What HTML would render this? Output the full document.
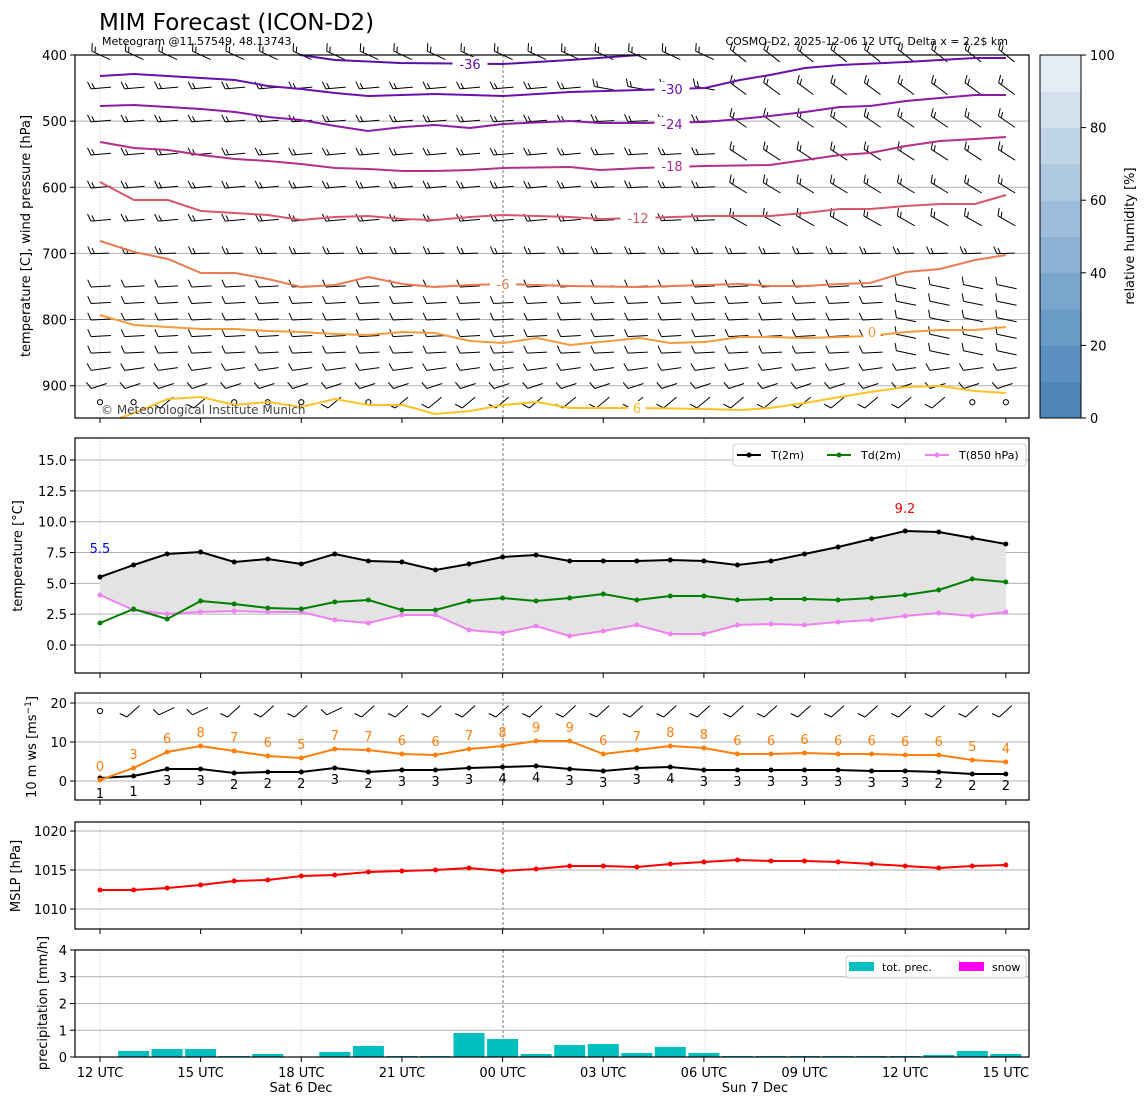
<!DOCTYPE html>
<html><head><meta charset="utf-8"><style>
body{margin:0;background:#fff;}
svg{display:block;font-family:"DejaVu Sans","Liberation Sans",sans-serif;}
</style></head><body>
<svg id="s" width="1148" height="1105" viewBox="0 0 1148 1105" xmlns="http://www.w3.org/2000/svg">
<rect width="1148" height="1105" fill="#fff"/>
<text x="99" y="30" font-size="23">MIM Forecast (ICON-D2)</text>
<text x="102" y="45" font-size="11">Meteogram @11.57549, 48.13743</text>
<text x="1008" y="45" font-size="11" text-anchor="end">COSMO-D2, 2025-12-06 12 UTC, Delta x = 2.2$ km</text>
<g id="g"></g>
</svg>
<script>
var g=document.getElementById('g');var h='';
function X(i){return 100+i*33.55;}
function pl(pts,c,w,extra){return '<polyline points="'+pts.map(p=>p[0].toFixed(1)+','+p[1].toFixed(1)).join(' ')+'" fill="none" stroke="'+c+'" stroke-width="'+w+'" '+(extra||'')+'/>';}
function line(x1,y1,x2,y2,c,w,e){return '<line x1="'+x1+'" y1="'+y1+'" x2="'+x2+'" y2="'+y2+'" stroke="'+c+'" stroke-width="'+(w||1)+'" '+(e||'')+'/>';}
function txt(x,y,t,s,c,a,e){return '<text x="'+x+'" y="'+y+'" font-size="'+(s||13)+'" fill="'+(c||'#000')+'" text-anchor="'+(a||'middle')+'" '+(e||'')+'>'+t+'</text>';}
var L=75,R=1029;
function vgrid(t,b){var s='';[100,301,705,906].forEach(x=>s+=line(x,t,x,b,'#cfcfcf',0.8,'stroke-dasharray="1.5,1.5"'));s+=line(503,t,503,b,'#555',0.8,'stroke-dasharray="3,2"');return s;}
function frame(t,b){var s='<rect x="'+L+'" y="'+t+'" width="'+(R-L)+'" height="'+(b-t)+'" fill="none" stroke="#000" stroke-width="1.2"/>';for(var k=0;k<10;k++){var x=100+k*100.65;s+=line(x,b,x,b+5,'#000',1);}return s;}
function ytick(y,lab){return line(L-5,y,L,y,'#000',1)+txt(L-8,y+5,lab,13,'#000','end');}
// ===== Top panel =====
var T=55,B=418;
function py(p){return T+(p-400)*0.6614;}
h+=vgrid(T,B);
[500,600,700,800,900].forEach(p=>h+=line(L,py(p),R,py(p),'#b0b0b0',1));
// barbs
function barb(x,y,ang,n,len){var a=ang*Math.PI/180,c=Math.cos(a),s=Math.sin(a);len=len||20;
 var x0=x-9*c,y0=y+9*s,x1=x0+len*c,y1=y0-len*s;var r=line(x0.toFixed(1),y0.toFixed(1),x1.toFixed(1),y1.toFixed(1),'#000',1);
 for(var k=0;k<n;k++){var bx=x0+k*3.5*c,by=y0-k*3.5*s;var ll=(k==n-1&&n>1)?6:8;var ba=a+Math.PI*0.62;r+=line(bx.toFixed(1),by.toFixed(1),(bx+ll*Math.cos(ba)).toFixed(1),(by-ll*Math.sin(ba)).toFixed(1),'#000',1);}return r;}
var levels=[400,450,500,550,600,650,700,750,775,800,825,850,875,900,925];
levels.forEach(function(p){var y=py(p);for(var i=0;i<28;i++){var x=X(i);var ang,n,len=20;
 if(p<=650){ang=i>=19?-38+(p-400)/30:(i>=15?(p<=450?-10:3):5);n=2;if(p==400&&i<19){n=2;ang=-25;}}
 else if(p==700){ang=2;n=2;len=18;}
 else if(p<=850){ang=i>=24?-12:3;n=1;}
 else if(p==875){ang=8;n=1;}
 else if(p==900){ang=18;n=1;len=16;}
 else{ if([0,1,4,5,6,8,26,27].indexOf(i)>=0){h+='<circle cx="'+x+'" cy="'+y+'" r="2.6" fill="none" stroke="#000" stroke-width="1"/>';continue;} ang=40;n=1;len=17;}
 h+=barb(x,y,ang,n,len);}});
// contours
var C=[
['#5a0fa8',[[300,55],[335,60],[400,63],[503,64],[570,60],[640,55]],'-36',470,64],
['#6a10b0',[[100,76],[134,74],[201,78],[235,80],[268,86],[301,89],[335,93],[368,96],[435,94],[470,95],[503,96],[570,92],[640,90],[705,88],[740,80],[770,75],[805,68],[840,65],[906,62],[940,60],[975,58],[1006,58]],'-30',672,89],
['#8c1aa8',[[100,106],[134,105],[168,107],[201,109],[235,112],[268,117],[301,120],[335,126],[368,131],[403,127],[435,125],[470,128],[503,124],[570,121],[600,123],[640,123],[705,122],[740,119],[770,116],[805,112],[840,107],[870,106],[906,101],[940,98],[975,95],[1006,95]],'-24',672,124],
['#b5308a',[[100,142],[134,148],[168,150],[201,155],[235,159],[268,161],[301,164],[335,168],[368,169],[403,171],[435,171],[470,170],[503,168],[570,167],[600,170],[640,168],[705,166],[770,165],[805,160],[840,155],[870,153],[906,146],[940,141],[975,139],[1006,137]],'-18',672,166],
['#d9566c',[[100,182],[134,200],[168,200],[201,211],[235,213],[268,215],[301,220],[335,217],[368,216],[403,219],[435,220],[470,217],[503,215],[570,217],[600,219],[640,218],[705,216],[770,216],[805,213],[840,209],[870,209],[906,206],[940,204],[975,204],[1006,195]],'-12',638,218],
['#ee7a55',[[100,241],[134,252],[168,259],[201,273],[235,273],[268,279],[301,287],[335,285],[368,277],[403,284],[435,287],[470,285],[503,284],[570,286],[640,287],[705,285],[740,284],[770,286],[805,286],[840,284],[870,283],[906,272],[940,269],[975,260],[1006,255]],'-6',503,284],
['#f99a3c',[[100,315],[134,325],[168,327],[201,329],[235,329],[268,331],[301,332],[335,334],[368,335],[403,332],[435,333],[470,341],[503,343],[537,338],[570,345],[640,338],[670,343],[705,342],[740,337],[770,337],[805,338],[840,337],[870,336],[906,332],[940,330],[975,330],[1006,327]],'0',872,332],
['#fcc226',[[120,418],[134,413],[168,399],[201,397],[235,405],[268,402],[301,407],[335,399],[368,405],[403,405],[435,414],[470,411],[503,405],[537,402],[570,408],[640,408],[705,409],[740,410],[770,408],[805,403],[840,397],[870,392],[906,387],[940,386],[975,391],[1006,393]],'6',637,408]];
C.forEach(function(c){h+=pl(c[1],c[0],2);var w=c[2].length*9+8;h+='<rect x="'+(c[3]-w/2)+'" y="'+(c[4]-7)+'" width="'+w+'" height="14" fill="#fff"/>';h+=txt(c[3],c[4]+5,c[2],13,c[0]);});
h+=txt(101,414,'© Meteorological Institute Munich',12,'#444','start');
h+=frame(T,B);
[400,500,600,700,800,900].forEach(p=>h+=ytick(py(p),p));
h+=txt(30,236,'temperature [C], wind pressure [hPa]',13,'#000','middle','transform="rotate(-90 30 236)"');
// colorbar
var cols=['#4f87ba','#5b90c0','#6a9ac6','#7aa5cc','#8cb1d3','#9dbdda','#afc9e1','#c0d5e8','#d3e1ef','#e4edf6','#f4f8fc'];
var cbT=55,cbB=418,cbH=(cbB-cbT);
for(var k=0;k<10;k++){var y1=cbB-(k+1)*cbH/10;h+='<rect x="1040" y="'+y1.toFixed(1)+'" width="41" height="'+(cbH/10+0.5).toFixed(1)+'" fill="'+cols[k]+'"/>';}
h+='<rect x="1040" y="55" width="41" height="363" fill="none" stroke="#000" stroke-width="1"/>';
[0,20,40,60,80,100].forEach(v=>{var y=cbB-v*cbH/100;h+=line(1081,y,1086,y,'#000',1)+txt(1090,y+5,v,13,'#000','start');});
h+=txt(1134,236,'relative humidity [%]',13,'#000','middle','transform="rotate(-90 1134 236)"');
// ===== Temperature panel =====
T=438;B=673;
h+=vgrid(T,B);
function ty(v){return 645-v*12.33;}
[0,2.5,5,7.5,10,12.5,15].forEach(v=>h+=line(L,ty(v),R,ty(v),'#b0b0b0',1));
var t2=[577,565,554,552,562,559,564,554,561,562,570,564,557,555,561,561,561,560,561,565,561,554,547,539,531,532,538,544];
var td=[623,609,619,601,604,608,609,602,600,610,610,601,598,601,598,594,600,596,596,600,599,599,600,598,595,590,579,582];
var t8=[595,610,614,612,611,612,612,620,623,615,615,630,633,626,636,631,625,634,634,625,624,625,622,620,616,613,616,612];
var poly=[];t2.forEach((y,i)=>poly.push(X(i).toFixed(1)+','+y));for(var i=27;i>=0;i--)poly.push(X(i).toFixed(1)+','+t8[i]);
h+='<polygon points="'+poly.join(' ')+'" fill="#e3e3e3"/>';
function series(arr,c,w,r){var s=pl(arr.map((y,i)=>[X(i),y]),c,w);arr.forEach((y,i)=>s+='<circle cx="'+X(i).toFixed(1)+'" cy="'+y+'" r="'+r+'" fill="'+c+'"/>');return s;}
h+=series(t8,'#ee82ee',2,2.5)+series(td,'#008000',2,2.5)+series(t2,'#000',2,2.5);
h+=txt(100,553,'5.5',13,'#0000ff')+txt(905,513,'9.2',13,'#ff0000');
h+='<rect x="733" y="444" width="293" height="22" rx="3" fill="#fff" fill-opacity="0.85" stroke="#d0d0d0"/>';
h+=line(737,455,761,455,'#000',2)+'<circle cx="749" cy="455" r="2.5"/>'+txt(771,459,'T(2m)',11,'#000','start');
h+=line(827,455,851,455,'#008000',2)+'<circle cx="839" cy="455" r="2.5" fill="#008000"/>'+txt(861,459,'Td(2m)',11,'#000','start');
h+=line(925,455,949,455,'#ee82ee',2)+'<circle cx="937" cy="455" r="2.5" fill="#ee82ee"/>'+txt(959,459,'T(850 hPa)',11,'#000','start');
h+=frame(T,B);
['0.0','2.5','5.0','7.5','10.0','12.5','15.0'].forEach(v=>h+=ytick(ty(+v),v));
h+=txt(22,556,'temperature [$^\\circ$C]'.replace('[$^\\circ$C]','[$^\\circ$C]'),13,'#000','middle','id="tl" transform="rotate(-90 22 556)"');
// ===== Wind panel =====
T=693;B=800;
h+=vgrid(T,B);
function wy(v){return 781-v*3.9;}
[0,10,20].forEach(v=>h+=line(L,wy(v),R,wy(v),'#b0b0b0',1));
var gy=[780,768,752,746,751,756,758,749,750,754,755,749,746,741,741,754,750,746,748,754,754,753,754,754,755,755,760,762];
var gl=[0,3,6,8,7,6,5,7,7,6,6,7,8,9,9,6,7,8,8,6,6,6,6,6,6,6,5,4];
var wy2=[778,776,769,769,773,772,772,768,772,770,770,768,767,766,769,771,768,767,770,770,770,770,770,771,771,772,774,774];
var wl=[1,1,3,3,2,2,2,3,2,3,3,3,4,4,3,3,3,4,3,3,3,3,3,3,3,2,2,2];
h+=series(wy2,'#000',2,2.5)+series(gy,'#ff7f0e',2,2.5);
gl.forEach((v,i)=>h+=txt(X(i),gy[i]-9,v,13,'#ff7f0e'));
wl.forEach((v,i)=>h+=txt(X(i),wy2[i]+(i<2?20:16),v,13,'#000'));
for(var i=0;i<28;i++){if(i==0){h+='<circle cx="100" cy="711" r="2.6" fill="none" stroke="#000"/>';continue;}h+=barb(X(i),711,([2,3,7].indexOf(i)>=0?25:42),1,17);}
h+=frame(T,B);
[0,10,20].forEach(v=>h+=ytick(wy(v),v));
h+=txt(36,747,'10 m ws [ms<tspan font-size="9" dy="-5">−1</tspan><tspan dy="5">]</tspan>',13,'#000','middle','transform="rotate(-90 36 747)"');
// ===== MSLP =====
T=822;B=929;
h+=vgrid(T,B);
[1010,1015,1020].forEach(v=>h+=line(L,909-(v-1010)*7.8,R,909-(v-1010)*7.8,'#b0b0b0',1));
var mp=[890,890,888,885,881,880,876,875,872,871,870,868,871,869,866,866,867,864,862,860,861,861,862,864,866,868,866,865];
h+=series(mp,'#ff0000',2,2.5);
h+=frame(T,B);
[1010,1015,1020].forEach(v=>h+=ytick(909-(v-1010)*7.8,v));
h+=txt(20,876,'MSLP [hPa]',13,'#000','middle','transform="rotate(-90 20 876)"');
// ===== Precip =====
T=950;B=1057;
h+=vgrid(T,B);
[1,2,3].forEach(v=>h+=line(L,1057-v*26.75,R,1057-v*26.75,'#b0b0b0',1));
var pr=[null,1051,1049,1049,1056,1054,null,1052,1046,1056,1056,1033,1039,1054,1045,1044,1053,1047,1053,1056,1056,1056,1056,1056,1056,1055,1051,1054];
pr.forEach((y,i)=>{if(y)h+='<rect x="'+(X(i)-15.5).toFixed(1)+'" y="'+y+'" width="31" height="'+(1057-y)+'" fill="#00bfbf"/>';});
h+='<rect x="846" y="956" width="180" height="22" rx="3" fill="#fff" fill-opacity="0.85" stroke="#d0d0d0"/>';
h+='<rect x="849" y="962" width="25" height="9" fill="#00bfbf"/>'+txt(882,971,'tot. prec.',11,'#000','start');
h+='<rect x="959" y="962" width="25" height="9" fill="#ff00ff"/>'+txt(992,971,'snow',11,'#000','start');
h+=frame(T,B);
[0,1,2,3,4].forEach(v=>h+=ytick(1057-v*26.75,v));
h+=txt(47,1003,'precipitation [mm/h]',13,'#000','middle','transform="rotate(-90 47 1003)"');
['12 UTC','15 UTC','18 UTC','21 UTC','00 UTC','03 UTC','06 UTC','09 UTC','12 UTC','15 UTC'].forEach((t,k)=>h+=txt(100+k*100.65,1077,t,13));
h+=txt(301,1092,'Sat 6 Dec',13)+txt(755,1092,'Sun 7 Dec',13);
g.innerHTML=h;
document.getElementById('tl').textContent='temperature [°C]';
</script>
</body></html>
